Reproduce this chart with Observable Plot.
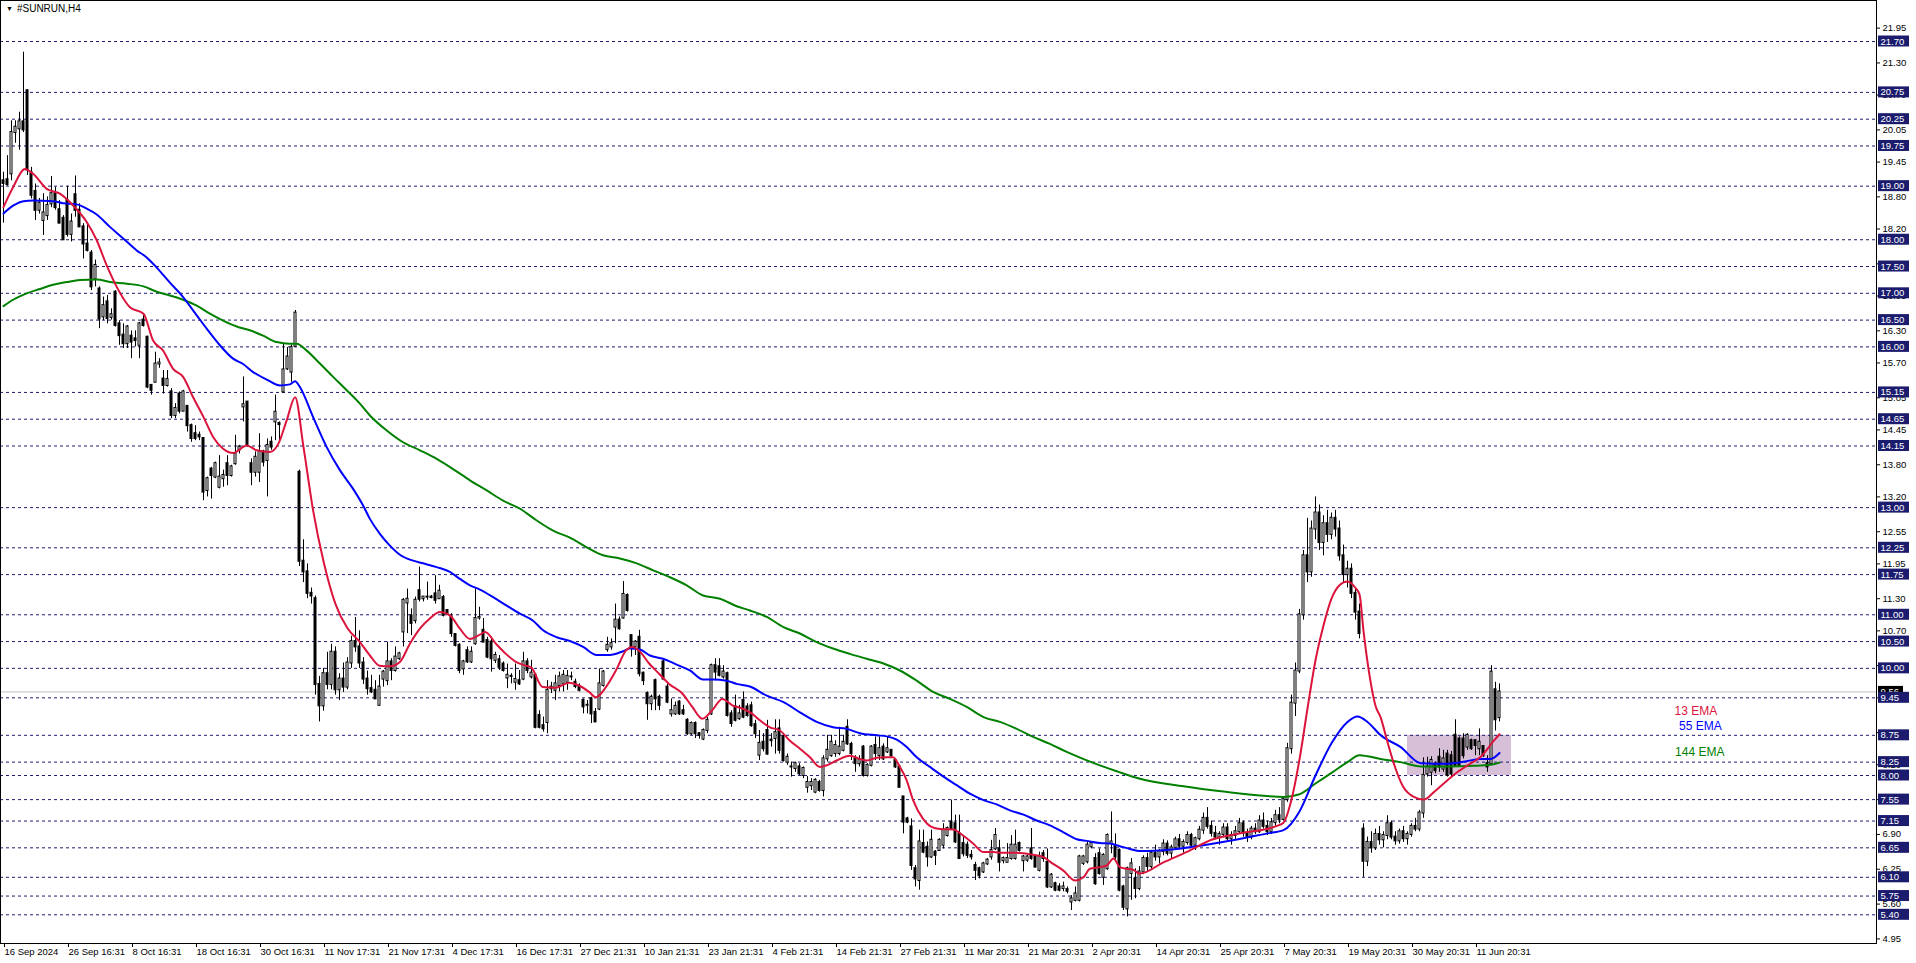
<!DOCTYPE html>
<html><head><meta charset="utf-8">
<script src="https://cdn.jsdelivr.net/npm/d3@7"></script>
<script src="https://cdn.jsdelivr.net/npm/@observablehq/plot@0.6"></script>
<style>
html,body{margin:0;padding:0;background:#fff;overflow:hidden}
#wrap{position:relative;width:1916px;height:963px}
#title{position:absolute;left:6px;top:3px;font:10px "Liberation Sans",Arial,sans-serif;color:#000;white-space:nowrap}
#title .tri{font-size:7px;margin-right:4px;position:relative;top:-1px}
</style></head><body>
<div id="wrap"><div id="chart"></div><div id="title"><span class="tri">▼</span>#SUNRUN,H4</div></div>
<script>
// ---------- data ----------
const timeLabels = ["16 Sep 2024","26 Sep 16:31","8 Oct 16:31","18 Oct 16:31","30 Oct 16:31","11 Nov 17:31","21 Nov 17:31","4 Dec 17:31","16 Dec 17:31","27 Dec 21:31","10 Jan 21:31","23 Jan 21:31","4 Feb 21:31","14 Feb 21:31","27 Feb 21:31","11 Mar 20:31","21 Mar 20:31","2 Apr 20:31","14 Apr 20:31","25 Apr 20:31","7 May 20:31","19 May 20:31","30 May 20:31","11 Jun 20:31"];
const barsPerLabel = 16;

const open = [
19.10,19.12,19.23,20.00,20.07,20.20,20.78,19.25,18.90,18.55,
18.36,18.45,18.67,18.86,18.56,18.40,18.73,18.10,18.84,18.55,
18.24,17.92,17.75,17.27,17.08,16.56,16.84,16.55,17.02,16.43,
16.22,16.06,16.20,16.15,16.03,16.50,16.18,15.28,15.34,15.68,
15.40,15.28,15.16,14.72,15.12,14.80,14.89,14.53,14.38,14.35,
14.29,13.32,13.72,13.57,13.38,13.54,13.82,13.60,13.82,14.07,
14.88,14.97,13.82,13.66,13.66,14.04,13.88,14.22,14.60,14.57,
15.16,15.59,15.53,16.01,13.66,12.00,11.80,11.40,11.30,9.70,
9.30,9.90,9.70,10.30,9.60,9.80,9.65,10.10,10.50,10.40,
10.10,9.80,9.62,9.59,9.31,9.80,9.77,10.12,9.96,10.18,
10.68,11.22,10.98,10.89,11.45,11.30,11.33,11.33,11.39,11.30,
11.32,11.08,10.96,10.63,10.43,9.99,10.33,10.12,10.46,10.94,
10.71,10.52,10.49,10.15,10.16,10.08,9.82,9.85,9.74,9.77,
9.80,10.12,9.84,9.87,9.12,8.93,8.99,9.62,9.59,9.68,
9.71,9.74,9.84,9.74,9.66,9.40,9.31,9.43,9.18,9.24,
9.68,10.35,10.40,10.77,10.90,10.94,11.36,10.61,10.40,10.58,
9.91,9.53,9.34,9.77,9.46,10.12,9.65,9.15,9.15,9.37,
9.21,9.03,8.78,8.97,8.78,8.68,8.84,9.15,10.05,10.03,
9.84,9.90,9.15,9.28,9.06,9.40,9.28,9.30,8.95,8.38,
8.62,8.84,8.66,8.69,8.87,8.72,8.25,8.16,8.13,8.16,
8.00,7.78,7.81,7.69,7.87,7.72,8.31,8.37,8.41,8.41,
8.47,8.90,8.58,8.31,8.22,8.53,8.00,8.19,8.56,8.37,
8.53,8.44,8.47,8.28,8.16,7.60,7.19,7.04,6.26,6.04,
6.73,6.66,6.48,6.57,6.60,6.70,6.88,7.13,7.10,6.91,
6.73,6.70,6.51,6.32,6.26,6.20,6.35,6.48,6.63,6.63,
6.41,6.38,6.45,6.45,6.73,6.41,6.42,6.63,6.48,6.23,
6.54,6.38,5.92,5.98,5.92,5.89,5.87,5.64,5.67,5.67,
6.36,6.39,6.67,6.45,6.54,6.10,6.26,6.73,6.67,6.60,
5.92,5.51,6.17,6.07,5.89,6.20,6.45,6.30,6.55,6.48,
6.58,6.72,6.55,6.65,6.80,6.68,6.75,6.88,6.70,6.82,
6.98,7.20,7.05,6.92,6.85,6.90,7.02,6.82,6.88,6.95,
7.10,6.92,6.85,7.00,6.95,7.15,7.05,6.95,7.12,7.25,
7.18,7.55,8.50,9.35,9.95,11.00,12.10,11.80,12.60,12.90,
12.35,12.70,12.50,12.80,12.60,12.10,11.75,11.85,11.40,11.05,
7.00,6.40,6.75,6.65,6.90,6.80,6.88,7.10,6.85,6.78,
6.95,6.82,6.90,7.05,7.00,7.30,8.03,8.06,8.19,8.34,
8.12,8.40,8.37,8.75,8.68,8.68,8.53,8.65,8.65,8.50,
8.54,8.22,8.22,9.60,9.08];
const high = [
19.26,19.57,20.22,20.22,20.38,21.50,20.80,19.35,19.04,18.77,
18.86,18.80,19.18,18.98,18.73,18.45,19.00,18.48,19.19,18.67,
18.30,18.30,17.80,17.62,17.12,16.93,16.96,16.71,17.05,16.49,
16.43,16.40,16.30,16.30,16.46,16.62,16.20,15.30,15.90,15.78,
15.56,15.56,15.22,14.94,15.16,15.19,14.90,14.56,14.53,14.41,
14.30,13.57,13.75,13.85,13.97,13.70,13.97,13.79,14.35,14.16,
15.44,14.98,13.91,14.04,14.38,14.07,14.28,14.32,15.10,14.60,
16.06,15.99,16.03,16.68,13.70,12.40,11.95,11.50,11.35,9.85,
10.00,10.30,10.45,10.40,9.90,10.10,10.20,10.60,10.95,10.70,
10.20,9.95,9.87,9.77,9.87,9.96,10.49,10.18,10.40,10.30,
11.30,11.48,11.11,11.33,11.89,11.33,11.61,11.36,11.73,11.55,
11.36,11.08,11.02,10.64,10.46,10.15,10.40,10.40,11.48,11.14,
10.93,10.58,10.58,10.30,10.24,10.12,10.08,9.90,10.08,9.96,
10.30,10.18,10.15,9.90,9.21,9.09,9.77,9.74,9.87,9.93,
9.96,9.96,9.93,9.80,9.71,9.43,9.40,9.46,9.25,9.99,
9.96,10.58,10.55,11.20,10.96,11.62,11.39,10.61,10.52,10.71,
9.93,9.56,9.50,9.80,9.50,10.15,9.71,9.43,9.37,9.40,
9.31,9.06,9.00,9.00,8.80,8.87,9.09,10.08,10.18,10.18,
10.05,9.93,9.21,9.50,9.31,9.56,9.34,9.37,9.03,8.84,
8.78,9.03,8.78,9.04,9.04,8.78,8.40,8.25,8.25,8.22,
8.16,7.98,7.94,7.94,7.91,8.37,8.75,8.75,8.65,8.90,
8.75,9.04,8.62,8.37,8.37,8.56,8.22,8.56,8.72,8.72,
8.59,8.72,8.47,8.31,8.19,7.60,7.22,7.19,6.32,6.98,
6.98,6.76,6.98,6.60,6.82,7.10,7.04,7.54,7.26,7.26,
6.88,6.76,6.60,6.38,6.29,6.38,6.45,6.79,7.01,6.79,
6.48,6.73,6.88,6.98,6.76,6.51,6.51,7.01,6.51,6.57,
6.60,6.63,6.17,6.01,5.98,6.01,5.92,5.76,5.92,6.51,
6.51,6.76,6.76,6.54,6.63,6.54,6.91,7.32,6.91,6.63,
5.95,6.29,6.45,6.26,6.30,6.50,6.55,6.60,6.70,6.62,
6.80,6.78,6.70,6.85,6.90,6.80,6.95,6.92,6.85,7.05,
7.30,7.40,7.15,7.05,6.95,7.10,7.10,6.95,7.05,7.20,
7.15,7.00,7.05,7.10,7.25,7.30,7.15,7.20,7.35,7.40,
7.60,8.60,9.50,10.10,11.10,12.20,12.80,12.75,13.20,13.05,
12.85,12.95,12.90,12.95,12.75,12.30,12.00,11.95,11.50,11.20,
7.10,6.85,6.95,7.00,7.05,6.95,7.25,7.15,6.95,7.00,
7.05,6.95,7.10,7.20,7.35,8.33,8.34,8.35,8.25,8.50,
8.47,8.47,8.45,9.04,8.72,8.78,8.78,8.68,8.65,8.87,
8.56,8.37,10.05,9.74,9.71];
const low = [
18.31,19.00,19.10,19.80,19.67,20.00,19.20,18.76,18.36,18.48,
18.08,18.36,18.60,18.55,18.30,17.99,18.05,17.96,18.42,18.23,
17.64,17.77,17.05,17.12,16.34,16.49,16.43,16.50,16.37,16.03,
15.97,15.97,15.78,16.00,15.78,16.37,15.22,15.10,15.34,15.60,
15.12,15.25,14.66,14.66,14.75,14.80,14.41,14.22,14.25,14.25,
13.13,13.20,13.16,13.54,13.35,13.38,13.41,13.57,13.79,14.00,
14.60,14.13,13.41,13.57,13.47,13.76,13.20,14.07,14.25,14.22,
15.13,15.56,15.34,15.99,11.90,11.60,11.30,11.20,9.50,9.00,
9.20,9.60,9.60,9.50,9.40,9.55,9.60,10.00,10.30,10.00,
9.70,9.50,9.53,9.43,9.30,9.65,9.68,9.77,9.93,10.15,
10.40,10.65,10.61,10.83,11.24,11.24,11.27,11.30,11.20,11.30,
10.96,10.99,10.58,10.40,9.90,9.87,10.09,10.09,10.43,10.90,
10.49,10.18,9.93,10.09,9.96,9.93,9.62,9.71,9.59,9.68,
9.77,9.90,9.80,8.87,8.87,8.81,8.78,9.53,9.40,9.56,
9.56,9.59,9.77,9.62,9.56,9.15,9.15,8.97,8.99,9.21,
9.65,10.30,10.34,10.46,10.71,10.92,11.05,10.21,10.24,9.84,
9.68,9.03,9.21,9.21,9.21,9.77,9.34,9.09,9.12,9.12,
9.12,8.75,8.75,8.69,8.68,8.65,8.78,9.12,9.77,9.84,
9.80,9.09,8.90,9.00,9.03,9.06,9.09,8.90,8.69,8.28,
8.44,8.38,8.53,8.40,8.40,8.25,8.19,7.97,8.06,8.00,
7.94,7.67,7.72,7.66,7.69,7.60,8.25,8.34,8.34,8.37,
8.44,8.56,8.28,8.06,8.16,7.97,7.97,8.16,8.28,8.28,
8.28,8.41,8.34,8.13,7.78,6.91,7.10,6.23,5.92,5.86,
6.54,6.29,6.45,6.32,6.60,6.63,6.85,6.98,6.73,6.45,
6.48,6.45,6.42,6.04,6.07,6.17,6.32,6.42,6.60,6.20,
6.35,6.38,6.42,6.42,6.57,6.20,6.38,6.42,6.29,6.20,
6.38,5.89,5.89,5.83,5.83,5.83,5.79,5.48,5.64,5.64,
6.32,6.35,6.63,5.95,6.14,5.95,6.23,6.54,6.42,5.83,
5.48,5.36,5.67,5.70,5.85,6.15,6.20,6.25,6.40,6.35,
6.50,6.50,6.45,6.60,6.62,6.55,6.70,6.65,6.60,6.78,
6.90,7.00,6.85,6.80,6.70,6.85,6.78,6.70,6.80,6.90,
6.85,6.75,6.80,6.90,6.92,7.00,6.88,6.90,7.05,7.10,
7.15,7.50,8.40,9.10,9.90,10.90,11.60,11.70,12.40,12.20,
12.10,12.35,12.40,12.45,12.00,11.60,11.50,11.30,10.90,10.55,
6.10,6.30,6.55,6.60,6.70,6.65,6.80,6.80,6.70,6.72,
6.75,6.70,6.85,6.95,6.95,7.20,7.97,7.81,8.03,8.06,
8.06,7.97,7.97,8.16,8.17,8.31,8.47,8.47,8.37,8.37,
8.34,8.06,8.19,8.83,9.00];
const close = [
19.05,19.03,20.00,20.10,20.20,20.05,19.30,18.83,18.55,18.68,
18.50,18.64,18.86,18.60,18.31,18.00,18.10,18.33,18.55,18.24,
17.92,17.80,17.12,17.52,16.52,16.77,16.53,16.60,16.40,16.21,
16.06,16.37,16.09,16.12,16.43,16.40,15.25,15.19,15.68,15.70,
15.28,15.39,14.72,14.85,14.80,15.16,14.53,14.29,14.29,14.32,
13.29,13.54,13.60,13.82,13.57,13.60,13.60,13.76,14.00,14.13,
14.92,14.16,13.66,13.94,14.04,13.85,14.16,14.13,14.78,14.55,
15.57,15.81,15.99,16.63,12.00,11.80,11.40,11.35,9.70,9.30,
9.90,9.70,10.30,9.60,9.80,9.65,10.10,10.50,10.40,10.10,
9.80,9.62,9.56,9.43,9.65,9.93,10.12,9.96,10.21,10.27,
11.27,11.29,10.84,11.27,11.29,11.33,11.33,11.32,11.27,11.44,
10.99,11.02,10.65,10.43,9.96,10.12,10.12,10.30,10.93,10.95,
10.49,10.21,10.18,10.24,10.02,9.96,9.87,9.85,9.79,9.71,
10.12,9.96,9.91,8.90,8.90,8.87,9.59,9.65,9.71,9.84,
9.87,9.85,9.84,9.66,9.59,9.28,9.31,9.15,9.00,9.71,
9.93,10.43,10.46,10.90,10.74,11.38,11.08,10.40,10.49,9.90,
9.77,9.34,9.46,9.43,9.31,9.80,9.37,9.21,9.29,9.15,
9.15,8.78,8.97,8.78,8.75,8.84,9.03,10.05,9.93,9.87,
9.93,9.12,8.97,9.03,9.15,9.09,9.12,8.93,8.78,8.60,
8.50,8.40,8.65,8.80,8.47,8.28,8.34,8.16,8.22,8.03,
8.13,7.87,7.87,7.91,7.72,8.31,8.47,8.62,8.56,8.53,
8.62,8.59,8.41,8.22,8.29,8.00,8.19,8.53,8.41,8.50,
8.31,8.50,8.37,8.16,7.78,7.13,7.13,6.32,6.07,6.76,
6.57,6.48,6.79,6.51,6.79,6.98,7.01,7.01,6.76,6.45,
6.54,6.51,6.48,6.23,6.13,6.35,6.42,6.60,6.88,6.38,
6.45,6.45,6.70,6.70,6.60,6.48,6.48,6.45,6.29,6.48,
6.45,5.92,6.14,5.86,5.86,5.92,5.84,5.70,5.79,6.48,
6.48,6.70,6.73,5.98,6.17,6.51,6.88,6.76,6.48,5.86,
5.54,6.26,6.35,5.89,6.20,6.45,6.30,6.55,6.48,6.58,
6.72,6.55,6.65,6.80,6.68,6.75,6.88,6.70,6.82,6.98,
7.20,7.05,6.92,6.85,6.90,7.02,6.82,6.88,6.95,7.10,
6.92,6.85,7.00,6.95,7.15,7.05,6.95,7.12,7.25,7.18,
7.55,8.50,9.35,9.95,11.00,12.10,11.80,12.60,12.90,12.35,
12.70,12.50,12.80,12.60,12.10,11.75,11.85,11.40,11.05,10.65,
6.40,6.75,6.65,6.90,6.80,6.88,7.10,6.85,6.78,6.95,
6.82,6.90,7.05,7.00,7.30,8.00,8.16,8.28,8.09,8.16,
8.31,8.00,8.03,8.19,8.19,8.37,8.75,8.50,8.56,8.62,
8.37,8.16,9.93,9.04,9.56];

// moving averages (13 / 55 / 144 EMA): [bar, price]
const ema13 = [[0,18.61],[2.4,18.98],[5.4,19.32],[7.4,19.23],[10.8,18.95],[14.1,18.86],[17.4,18.64],[20.8,18.33],[23.3,17.99],[25.8,17.52],[28.3,17.12],[31.6,16.74],[35,16.62],[37.4,16.12],[39.9,15.93],[42.4,15.59],[44.9,15.44],[47.4,15.06],[50,14.69],[52.4,14.32],[54.9,14.10],[57.4,14.02],[60.8,14.16],[63.3,14.07],[66.6,14.04],[68.7,14.19],[70.8,14.63],[72.9,15.06],[75,14.13],[77.4,12.95],[80,12.0],[83,11.2],[86,10.75],[89,10.5],[91.6,10.24],[94,10.05],[96.6,10.04],[99.1,10.12],[101.6,10.46],[104.1,10.74],[106.6,10.93],[109.1,11.05],[111.6,10.99],[114.1,10.74],[116.6,10.55],[119.1,10.63],[120.4,10.68],[123.1,10.46],[125.6,10.27],[128.1,10.12],[130.6,10.05],[131.9,10.02],[134.8,9.65],[138.1,9.64],[141.4,9.73],[143.9,9.68],[146.4,9.56],[148.1,9.46],[150.6,9.65],[153.1,9.96],[155.6,10.33],[157.2,10.40],[158.9,10.33],[161.4,10.09],[163.9,9.90],[166.4,9.71],[169.7,9.53],[172.2,9.28],[174.7,9.06],[177.2,9.22],[179.7,9.43],[182.2,9.31],[184.7,9.25],[187.2,9.15],[189.1,9.03],[191.6,8.90],[194.1,8.84],[196.6,8.65],[199.1,8.50],[201.6,8.34],[204.1,8.16],[205.8,8.19],[208.3,8.28],[211.6,8.37],[214.1,8.31],[215.8,8.28],[218.3,8.33],[220.8,8.34],[222.4,8.34],[224.1,8.16],[225.8,7.91],[227.4,7.54],[229.9,7.19],[232,7.04],[234.1,7.00],[237.4,6.99],[239.9,6.88],[242.4,6.73],[245,6.57],[247.4,6.57],[250,6.56],[252.6,6.56],[255,6.55],[257.4,6.52],[259.9,6.48],[262.4,6.35],[264.9,6.23],[267.9,6.04],[270,6.10],[271.6,6.26],[274.1,6.29],[275.8,6.32],[277.5,6.45],[279.1,6.29],[280.8,6.26],[282.4,6.24],[284.1,6.17],[290,6.38],[296,6.58],[302,6.80],[310,6.93],[318,7.05],[320,7.12],[322,7.55],[324,8.30],[326,9.25],[328,10.15],[330,10.80],[332,11.30],[334,11.55],[336,11.62],[338,11.50],[339,11.38],[340,10.70],[341,10.12],[342,9.65],[343,9.30],[344.3,9.08],[345.9,8.65],[347.6,8.22],[350,7.78],[352.6,7.60],[355.1,7.55],[357.6,7.69],[361,7.91],[363.4,8.06],[366,8.19],[369.3,8.35],[372.6,8.65],[374,8.77]];
const ema55 = [[0,18.49],[2.5,18.64],[5,18.72],[7.4,18.73],[12.4,18.72],[14.9,18.68],[18.3,18.66],[20.8,18.58],[23.3,18.47],[26.6,18.24],[30,18.02],[33.3,17.80],[35.8,17.67],[38.3,17.48],[41.6,17.20],[44.9,16.93],[48.3,16.59],[50.8,16.34],[54.1,16.03],[57.4,15.78],[59.9,15.68],[62.4,15.53],[65.8,15.39],[69.1,15.28],[71.6,15.30],[72.9,15.36],[74.1,15.25],[77.4,14.69],[80.8,14.13],[84.1,13.70],[87.4,13.35],[89.9,13.04],[91.6,12.79],[94.1,12.51],[96.6,12.29],[99.1,12.12],[102.4,12.01],[104.9,11.96],[108.3,11.89],[111.6,11.80],[114.1,11.67],[116.6,11.55],[119.1,11.47],[122.4,11.33],[125.8,11.17],[129.1,11.02],[132.4,10.89],[134.9,10.71],[138.3,10.58],[141.6,10.51],[144.9,10.40],[148.3,10.25],[151.6,10.25],[154.9,10.32],[156.6,10.37],[159.1,10.35],[161.6,10.24],[164.9,10.18],[168.3,10.07],[171.6,9.96],[174.9,9.79],[177.4,9.79],[180.8,9.77],[183.3,9.71],[186.6,9.66],[190.8,9.49],[195,9.37],[199.1,9.18],[203.3,9.00],[207.4,8.90],[210.8,8.87],[214.1,8.79],[218.3,8.75],[220.8,8.73],[223.3,8.67],[225.8,8.53],[228.3,8.34],[231.6,8.16],[235,7.98],[238.3,7.82],[241.6,7.66],[245,7.54],[248.3,7.46],[251.6,7.35],[255,7.27],[258.3,7.16],[261.6,7.07],[265,6.94],[268.3,6.81],[270.8,6.78],[274.1,6.74],[276.6,6.73],[279.1,6.68],[281.6,6.63],[284.1,6.59],[292,6.62],[300,6.70],[308,6.80],[316,6.92],[320,6.98],[324,7.33],[328,8.00],[332,8.60],[336,9.00],[338.5,9.10],[341,9.00],[344.3,8.75],[349.3,8.53],[354.3,8.23],[361,8.22],[366,8.27],[369.3,8.31],[371.8,8.31],[374,8.42]];
const ema144 = [[0,16.76],[2.4,16.88],[5.8,17.00],[9.1,17.08],[12.4,17.16],[15.8,17.21],[19.1,17.25],[23.3,17.26],[26.6,17.21],[30.8,17.18],[35,17.13],[38.3,17.03],[41.6,16.96],[44.9,16.88],[48.3,16.77],[51.6,16.62],[54.9,16.49],[58.3,16.38],[61.6,16.31],[64.9,16.21],[68.3,16.09],[71.6,16.06],[73.3,16.06],[75.8,15.93],[79.1,15.69],[82.4,15.44],[85.8,15.19],[89.1,14.94],[91.6,14.72],[95.8,14.44],[99.9,14.22],[104.1,14.07],[108.3,13.91],[112.4,13.72],[116.6,13.51],[120.8,13.32],[124.9,13.13],[129.1,12.98],[133.3,12.76],[137.4,12.57],[141.6,12.44],[145.8,12.26],[149.9,12.11],[154.1,12.05],[158.3,11.96],[162.4,11.83],[166.6,11.70],[170.8,11.55],[174.9,11.36],[179.1,11.30],[183.3,11.16],[186.6,11.08],[190.8,10.96],[195,10.77],[199.1,10.65],[203.3,10.49],[207.4,10.37],[211.6,10.27],[215.8,10.18],[220,10.09],[224.1,9.96],[228.3,9.77],[232.4,9.56],[236.6,9.43],[240.8,9.28],[245,9.09],[249.1,9.00],[253.3,8.87],[257.4,8.72],[261.6,8.59],[265.8,8.44],[269.9,8.31],[274.1,8.19],[278.3,8.08],[284.1,7.94],[295,7.80],[305,7.70],[315,7.62],[320,7.60],[324,7.65],[328,7.85],[332,8.05],[336,8.25],[339,8.38],[341,8.36],[344.3,8.31],[349.3,8.25],[354.3,8.17],[361,8.17],[367.6,8.18],[371.8,8.20],[374,8.24]];

// horizontal levels drawn on the chart, axis ticks, current price
const levels = [21.70,20.75,20.25,19.75,19.00,18.00,17.50,17.00,16.50,16.00,15.15,14.65,14.15,13.00,12.25,11.75,11.00,10.50,10.00,9.45,8.75,8.25,8.00,7.55,7.15,6.65,6.10,5.75,5.40];
const priceTicks = [21.95,21.30,20.70,20.05,19.45,18.80,18.20,17.55,16.95,16.30,15.70,15.05,14.45,13.80,13.20,12.55,11.95,11.30,10.70,10.05,9.45,8.80,8.20,7.55,6.90,6.25,5.60,4.95];
const currentPrice = 9.56;

// consolidation zone (bars / prices) and legend
const zoneBars = [351, 377];
const zonePrices = [8.00, 8.75];
const legendLabels = ["13 EMA","55 EMA","144 EMA"];
const legendBars = [423.1, 424.2, 424.05];
const legendPrices = [9.21, 8.915, 8.43];

// ---------- layout ----------
const W = 1916, H = 963;
const plotRight = 1876, plotBottom = 943;
const pxPerBar = 4, firstBarPx = 3;
const pxToBar = px => (px - firstBarPx) / pxPerBar;
const pxPerPrice = 53.577;
const yTop = 21.70 + 41 / pxPerPrice;
const yBottom = 21.70 - (plotBottom - 41) / pxPerPrice;
const half = 5.5 / pxPerPrice;

const colors = {level:"#1c1c6e", red:"#dc143c", blue:"#0000ff", green:"#008000", zone:"#d8bfd8"};
const font = '"Liberation Sans", Arial, sans-serif';

const bars = d3.range(open.length).filter(i => open[i] != null)
  .map(i => ({i, o: open[i], h: high[i], l: low[i], c: close[i]}));
const up = bars.filter(d => d.c >= d.o), down = bars.filter(d => d.c < d.o);
const labelBars = timeLabels.map((_, k) => k * barsPerLabel);
const legend = legendLabels.map((t, k) => ({t, x: legendBars[k], y: legendPrices[k], c: [colors.red, colors.blue, colors.green][k]}));

const chart = Plot.plot({
  width: W, height: H,
  marginTop: 0, marginLeft: 0, marginRight: W - plotRight, marginBottom: H - plotBottom,
  x: {domain: [pxToBar(0), pxToBar(plotRight)]},
  y: {domain: [yBottom, yTop]},
  style: {fontFamily: font, fontSize: "9.5px", background: "white", color: "black"},
  marks: [
    Plot.rect([0], {x1: zoneBars[0], x2: zoneBars[1], y1: zonePrices[0], y2: zonePrices[1], fill: colors.zone}),
    Plot.ruleY(levels, {stroke: colors.level, strokeDasharray: "3,3"}),
    Plot.ruleY([currentPrice], {stroke: "#c0c0c0"}),
    Plot.ruleX(bars, {x: "i", y1: "l", y2: "h", stroke: "black"}),
    Plot.rect(down, {x1: d => d.i - 0.25, x2: d => d.i + 0.25, y1: "o", y2: "c", fill: "black", stroke: "black", insetTop: -0.5, insetBottom: -0.5}),
    Plot.rect(up, {x1: d => d.i - 0.25, x2: d => d.i + 0.25, y1: "o", y2: "c", fill: "white", stroke: "black", insetTop: -0.5, insetBottom: -0.5}),
    Plot.line(ema144, {x: d => d[0], y: d => d[1], stroke: colors.green, strokeWidth: 2, curve: "monotone-x"}),
    Plot.line(ema55, {x: d => d[0], y: d => d[1], stroke: colors.blue, strokeWidth: 2, curve: "monotone-x"}),
    Plot.line(ema13, {x: d => d[0], y: d => d[1], stroke: colors.red, strokeWidth: 2, curve: "monotone-x"}),
    Plot.text(legend, {x: "x", y: "y", text: "t", fill: "c", fontSize: 12, textAnchor: "middle"}),
    Plot.frame({stroke: "black"}),
    Plot.axisX({ticks: labelBars, tickFormat: d => timeLabels[Math.round(d / barsPerLabel)], tickSize: 4, tickPadding: 1, textAnchor: "start", dx: 1, label: null, fontSize: 9.5}),
    Plot.axisY({ticks: priceTicks, anchor: "right", tickFormat: d => d.toFixed(2), tickSize: 3, tickPadding: 3, label: null, fontSize: 9.5}),
    Plot.rect([currentPrice], {x1: pxToBar(plotRight + 2), x2: pxToBar(plotRight + 27), y1: d => d - half, y2: d => d + half, fill: "black"}),
    Plot.text([currentPrice], {x: pxToBar(plotRight + 4), y: d => d, text: d => d.toFixed(2), fill: "white", textAnchor: "start", fontSize: 9.5}),
    Plot.rect(levels, {x1: pxToBar(plotRight + 2), x2: pxToBar(plotRight + 33), y1: d => d - half, y2: d => d + half, fill: colors.level}),
    Plot.text(levels, {x: pxToBar(plotRight + 4), y: d => d, text: d => d.toFixed(2), fill: "white", textAnchor: "start", fontSize: 9.5})
  ]
});
document.getElementById("chart").appendChild(chart);
</script>
</body></html>
